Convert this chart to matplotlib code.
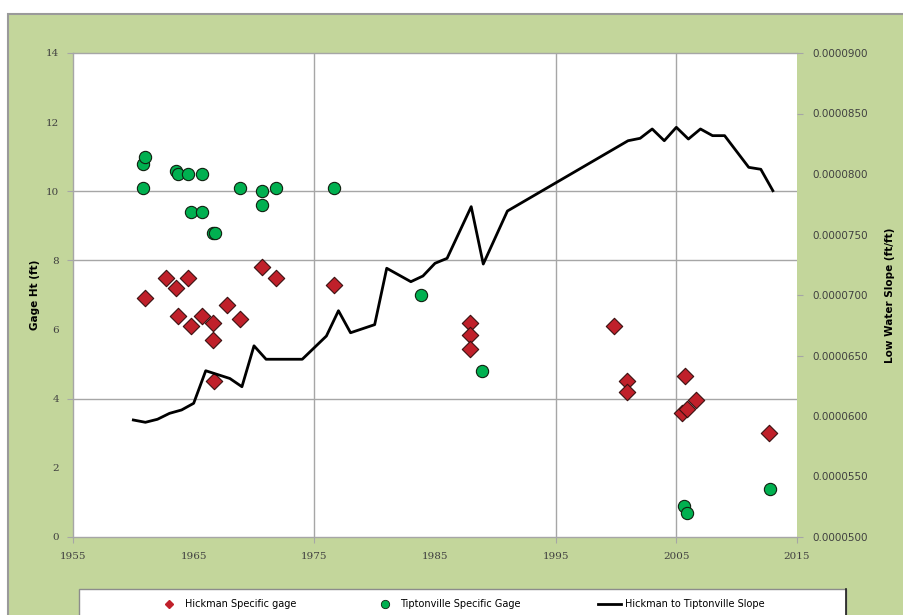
import matplotlib
matplotlib.use("Agg")
import matplotlib.pyplot as plt
from matplotlib.patches import Rectangle
from matplotlib.lines import Line2D

# Hickman specific gage readings (year, ft)
hickman_years = [1961.0, 1962.7, 1963.5, 1963.7, 1964.5, 1964.8, 1965.7, 1966.6, 1966.6, 1966.7,
                 1967.8, 1968.8, 1970.7, 1971.8, 1976.6, 1987.9, 1987.9, 1987.9,
                 1999.8, 2000.9, 2000.9, 2005.5, 2005.7, 2005.9, 2006.6, 2012.7]
hickman_gage = [6.9, 7.5, 7.2, 6.4, 7.5, 6.1, 6.4, 6.2, 5.7, 4.5,
                6.7, 6.3, 7.8, 7.5, 7.3, 6.2, 5.85, 5.45,
                6.1, 4.5, 4.2, 3.6, 4.65, 3.7, 3.95, 3.0]

# Tiptonville specific gage readings (year, ft)
tipton_years = [1960.8, 1960.8, 1961.0, 1963.5, 1963.7, 1964.5, 1965.7, 1964.8, 1965.7,
                1966.6, 1966.8, 1968.8, 1970.7, 1970.7, 1971.8, 1976.6,
                1983.8, 1988.9, 2005.6, 2005.9, 2012.8]
tipton_gage = [10.1, 10.8, 11.0, 10.6, 10.5, 10.5, 10.5, 9.4, 9.4,
               8.8, 8.8, 10.1, 10.0, 9.6, 10.1, 10.1,
               7.0, 4.8, 0.9, 0.7, 1.38]

# Hickman to Tiptonville low water slope (ft/ft)
slope_years = [1960, 1961, 1962, 1963, 1964, 1965, 1966, 1968, 1969, 1970, 1971, 1974,
               1976, 1977, 1978, 1980, 1981, 1983, 1984, 1985, 1986, 1988, 1989, 1991,
               2001, 2002, 2003, 2004, 2005, 2006, 2007, 2008, 2009, 2011, 2012, 2013]
slope_vals = [5.967e-5, 5.948e-5, 5.973e-5, 6.022e-5, 6.05e-5, 6.105e-5, 6.374e-5, 6.31e-5,
              6.242e-5, 6.58e-5, 6.469e-5, 6.469e-5, 6.661e-5, 6.87e-5, 6.688e-5, 6.755e-5,
              7.221e-5, 7.11e-5, 7.157e-5, 7.262e-5, 7.303e-5, 7.73e-5, 7.256e-5, 7.694e-5,
              8.275e-5, 8.295e-5, 8.372e-5, 8.275e-5, 8.386e-5, 8.289e-5, 8.372e-5, 8.317e-5,
              8.317e-5, 8.055e-5, 8.039e-5, 7.862e-5]

x_ticks = [1955, 1965, 1975, 1985, 1995, 2005, 2015]
y_ticks = [0, 2, 4, 6, 8, 10, 12, 14]
y2_ticks = [5.0e-5, 5.5e-5, 6.0e-5, 6.5e-5, 7.0e-5, 7.5e-5, 8.0e-5, 8.5e-5, 9.0e-5]

# only some grid lines / tick marks survive in the original rendering
x_grid_shown = [1975, 1995, 2005]
x_tick_shown = [1955, 1975, 1995, 2005, 2015]
y_grid_shown = [4, 8, 10]
y_tick_shown = [0, 4, 8, 10, 14]
y2_tick_shown = [5.0e-5, 6.5e-5, 7.0e-5, 8.5e-5, 9.0e-5]

GREEN_BG = "#c3d69b"
GRID = "#a6a6a6"
TICK_COLOR = "#404040"

fig = plt.figure(figsize=(9.04, 6.15), dpi=100)
fig.patch.set_facecolor("white")
fig.add_artist(Rectangle((8 / 904, -0.1), 1.1, 1.1 - 14 / 615, transform=fig.transFigure,
                         facecolor=GREEN_BG, edgecolor="#9a9a9a", lw=1.5, zorder=0))
fig.add_artist(Rectangle((79 / 904, -0.05), (846 - 79) / 904, 0.05 + 1 - 589 / 615,
                         transform=fig.transFigure, facecolor="white", edgecolor="#8c8c8c",
                         lw=1, zorder=1))
fig.add_artist(Line2D([846 / 904, 846 / 904], [0, 1 - 589 / 615], transform=fig.transFigure,
                      color="#202020", lw=1.2, zorder=2))

ax = fig.add_axes([73 / 904, 1 - 537 / 615, (797 - 73) / 904, (537 - 53) / 615])
ax.set_facecolor("white")

# partial grid, as in the original
for xv in x_grid_shown:
    ax.axvline(xv, color=GRID, lw=1.0, zorder=1)
for yv in y_grid_shown:
    ax.axhline(yv, color=GRID, lw=1.0, zorder=1)

ax.scatter(hickman_years, hickman_gage, marker="D", s=70, color="#c0202a",
           edgecolor="#3a1010", linewidth=0.8, zorder=3, label="Hickman Specific gage")
ax.scatter(tipton_years, tipton_gage, marker="o", s=78, color="#00b050",
           edgecolor="#102010", linewidth=0.8, zorder=3, label="Tiptonville Specific Gage")

ax.set_xlim(1955, 2015)
ax.set_ylim(0, 14)
ax.set_xticks(x_ticks)
ax.set_yticks(y_ticks)
ax.tick_params(axis="both", direction="out", length=4, color=GRID, labelcolor=TICK_COLOR,
               labelsize=7.5)
ax.tick_params(axis="x", pad=7)
ax.tick_params(axis="y", pad=6)
for lab in ax.get_xticklabels() + ax.get_yticklabels():
    lab.set_family("DejaVu Serif")
for side in ["left", "bottom", "top"]:
    ax.spines[side].set_color(GRID)
    ax.spines[side].set_linewidth(1.0)
ax.spines["right"].set_visible(False)
ax.set_ylabel("Gage Ht (ft)", fontsize=7.5, fontweight="bold", labelpad=4)

ax2 = ax.twinx()
ax2.plot(slope_years, slope_vals, color="black", lw=2, zorder=4,
         label="Hickman to Tiptonville Slope")
ax2.set_ylim(5.0e-5, 9.0e-5)
ax2.set_yticks(y2_ticks)
ax2.set_yticklabels([f"{v:.7f}" for v in y2_ticks])
ax2.tick_params(axis="y", direction="out", length=4, color=GRID, labelcolor=TICK_COLOR,
                labelsize=7.5, pad=7)
for side in ax2.spines.values():
    side.set_visible(False)
ax2.set_ylabel("Low Water Slope (ft/ft)", fontsize=7.5, fontweight="bold", labelpad=12)

# hide the tick marks that are missing in the original (after twinx, which resets them)
for loc, tick in zip(x_ticks, ax.xaxis.get_major_ticks()):
    tick.tick1line.set_visible(loc in x_tick_shown)
for loc, tick in zip(y_ticks, ax.yaxis.get_major_ticks()):
    tick.tick1line.set_visible(loc in y_tick_shown)
for loc, tick in zip(y2_ticks, ax2.yaxis.get_major_ticks()):
    tick.tick2line.set_visible(any(abs(loc - v) < 1e-9 for v in y2_tick_shown))

handles = [
    Line2D([], [], marker="D", ls="none", color="#c0202a", markersize=4.5),
    Line2D([], [], marker="o", ls="none", color="#00b050", markeredgecolor="#102010",
           markeredgewidth=0.6, markersize=6),
    Line2D([], [], color="black", lw=2),
]
labels = ["Hickman Specific gage", "Tiptonville Specific Gage", "Hickman to Tiptonville Slope"]
fig.legend(handles, labels, loc="center", bbox_to_anchor=(0.51, 1 - 604 / 615), ncol=3,
           frameon=False, fontsize=7, columnspacing=7.9, handlelength=2.4, handletextpad=0.4)

fig.savefig("out.png", dpi=100)
